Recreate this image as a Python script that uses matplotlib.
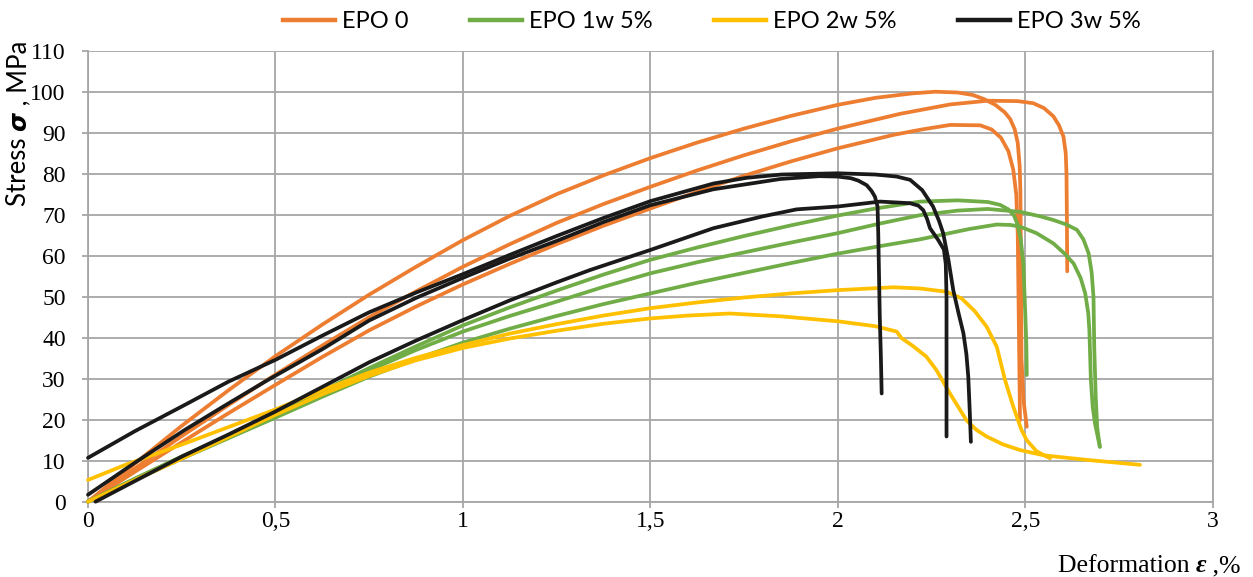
import matplotlib
matplotlib.use("Agg")
import matplotlib.pyplot as plt
from matplotlib.lines import Line2D

# ---------------- data (strain %, stress MPa) ----------------
epo0_a_x = [0, 0.125, 0.25, 0.375, 0.5, 0.625, 0.75, 0.875, 1.0, 1.125, 1.25, 1.375, 1.5, 1.625, 1.75, 1.875, 2.0, 2.1, 2.2, 2.26, 2.32, 2.36, 2.39, 2.42, 2.445, 2.46, 2.472, 2.48, 2.485, 2.487, 2.488, 2.489, 2.49, 2.495, 2.504]
epo0_a_y = [0, 9.3, 18.5, 27.2, 35.5, 43.2, 50.5, 57.3, 63.8, 69.7, 75.0, 79.6, 83.8, 87.6, 91.0, 94.1, 96.8, 98.5, 99.6, 100.0, 99.8, 99.2, 98.2, 96.8, 95.0, 93.3, 90.8, 87.5, 82.0, 76.0, 65.0, 50.0, 35.0, 25.0, 18.3]
epo0_b_x = [0, 0.125, 0.25, 0.375, 0.5, 0.625, 0.75, 0.875, 1.0, 1.125, 1.25, 1.375, 1.5, 1.625, 1.75, 1.875, 2.0, 2.166, 2.3, 2.4, 2.48, 2.521, 2.55, 2.575, 2.59, 2.602, 2.608, 2.61, 2.611, 2.612]
epo0_b_y = [0, 8.1, 16.0, 23.6, 31.0, 38.1, 45.0, 51.3, 57.3, 62.8, 68.0, 72.6, 76.8, 80.8, 84.5, 87.9, 91.0, 94.6, 96.9, 97.8, 97.7, 97.2, 96.0, 94.0, 91.8, 89.0, 85.0, 80.0, 70.0, 56.2]
epo0_c_x = [0, 0.125, 0.25, 0.375, 0.5, 0.625, 0.75, 0.875, 1.0, 1.125, 1.25, 1.375, 1.5, 1.625, 1.75, 1.875, 2.0, 2.15, 2.225, 2.3, 2.38, 2.41, 2.435, 2.455, 2.468, 2.476, 2.48, 2.482, 2.484, 2.486]
epo0_c_y = [0, 7.3, 14.5, 21.6, 28.5, 35.3, 41.8, 47.6, 53.0, 58.0, 62.8, 67.3, 71.5, 75.6, 79.5, 83.0, 86.2, 89.5, 90.8, 91.9, 91.8, 90.8, 88.8, 85.5, 81.0, 75.0, 65.0, 50.0, 35.0, 19.9]

epo1_a_x = [0, 0.125, 0.25, 0.375, 0.5, 0.625, 0.75, 0.875, 1.0, 1.125, 1.25, 1.375, 1.5, 1.625, 1.75, 1.875, 2.0, 2.1, 2.22, 2.32, 2.4, 2.433, 2.455, 2.47, 2.48, 2.488, 2.495, 2.5, 2.503, 2.504]
epo1_a_y = [0, 5.6, 11.0, 16.2, 21.5, 27.0, 32.6, 37.9, 43.0, 47.4, 51.5, 55.4, 59.0, 62.0, 64.8, 67.4, 69.8, 71.5, 73.2, 73.5, 73.1, 72.4, 71.3, 69.8, 67.5, 64.0, 58.0, 46.0, 38.0, 30.9]
epo1_b_x = [0, 0.125, 0.25, 0.375, 0.5, 0.625, 0.75, 0.875, 1.0, 1.125, 1.25, 1.375, 1.5, 1.625, 1.75, 1.875, 2.0, 2.11, 2.22, 2.32, 2.4, 2.486, 2.54, 2.575, 2.61, 2.638, 2.655, 2.669, 2.677, 2.682, 2.684, 2.688, 2.692, 2.699]
epo1_b_y = [0, 5.6, 11.0, 16.0, 21.0, 26.6, 32.0, 37.0, 41.5, 45.3, 48.8, 52.4, 55.7, 58.4, 60.8, 63.2, 65.5, 67.8, 69.9, 71.0, 71.4, 70.7, 69.6, 68.7, 67.6, 66.3, 64.0, 60.6, 56.0, 50.0, 37.8, 25.6, 18.0, 13.4]
epo1_c_x = [0, 0.125, 0.25, 0.375, 0.5, 0.625, 0.75, 0.875, 1.0, 1.125, 1.25, 1.375, 1.5, 1.625, 1.75, 1.875, 2.0, 2.11, 2.22, 2.35, 2.424, 2.46, 2.486, 2.53, 2.575, 2.605, 2.629, 2.648, 2.66, 2.668, 2.671, 2.675, 2.68, 2.686, 2.699]
epo1_c_y = [0, 5.3, 10.5, 15.5, 20.5, 25.6, 30.5, 34.8, 38.8, 42.2, 45.3, 48.2, 50.8, 53.4, 55.8, 58.2, 60.5, 62.3, 64.0, 66.5, 67.6, 67.5, 67.1, 65.5, 63.0, 60.5, 58.1, 54.5, 50.8, 46.0, 41.9, 29.7, 23.0, 19.1, 13.4]

epo2_a_x = [0, 0.1, 0.258, 0.401, 0.5, 0.625, 0.75, 0.875, 1.0, 1.125, 1.25, 1.375, 1.5, 1.625, 1.75, 1.875, 2.0, 2.148, 2.22, 2.29, 2.33, 2.365, 2.397, 2.424, 2.446, 2.468, 2.49, 2.504, 2.53, 2.566]
epo2_a_y = [5.3, 9.0, 14.2, 19.1, 22.5, 27.2, 31.5, 35.1, 38.2, 41.0, 43.3, 45.4, 47.2, 48.6, 49.8, 50.8, 51.6, 52.3, 52.0, 51.2, 49.6, 46.5, 42.7, 37.8, 29.7, 23.2, 17.5, 15.0, 12.3, 10.6]
epo2_b_x = [0, 0.125, 0.25, 0.375, 0.5, 0.625, 0.75, 0.875, 1.0, 1.125, 1.25, 1.375, 1.5, 1.6, 1.712, 1.85, 2.0, 2.1, 2.157, 2.17, 2.2, 2.236, 2.263, 2.299, 2.343, 2.37, 2.397, 2.44, 2.486, 2.55, 2.664, 2.806]
epo2_b_y = [0, 5.3, 10.5, 15.8, 21.2, 26.2, 30.7, 34.5, 37.5, 39.8, 41.7, 43.4, 44.7, 45.4, 45.9, 45.2, 44.0, 42.8, 41.5, 39.9, 38.0, 35.4, 32.1, 26.4, 19.9, 17.5, 15.9, 14.0, 12.6, 11.3, 10.2, 9.0]

epo3_a_x = [0, 0.125, 0.258, 0.375, 0.5, 0.625, 0.75, 0.875, 1.0, 1.125, 1.25, 1.375, 1.5, 1.668, 1.757, 1.85, 2.0, 2.1, 2.157, 2.193, 2.225, 2.254, 2.27, 2.281, 2.295, 2.308, 2.322, 2.335, 2.343, 2.348, 2.352, 2.355]
epo3_a_y = [10.7, 17.2, 23.6, 29.3, 34.6, 40.5, 46.2, 51.0, 55.5, 60.2, 64.8, 69.2, 73.3, 77.6, 79.0, 79.8, 80.1, 79.8, 79.3, 78.5, 76.0, 72.0, 68.5, 65.5, 59.0, 51.6, 46.0, 41.1, 36.0, 30.5, 22.0, 14.6]
epo3_b_x = [0, 0.125, 0.258, 0.375, 0.48, 0.625, 0.75, 0.875, 1.0, 1.125, 1.25, 1.375, 1.5, 1.668, 1.846, 1.95, 2.0, 2.035, 2.055, 2.077, 2.09, 2.099, 2.106, 2.108, 2.11, 2.112, 2.115, 2.117]
epo3_b_y = [1.7, 9.5, 17.5, 24.0, 29.7, 37.2, 44.2, 49.7, 54.6, 59.3, 63.6, 68.2, 72.3, 76.2, 78.7, 79.4, 79.3, 78.9, 78.3, 77.2, 75.8, 74.4, 72.0, 65.0, 55.0, 45.0, 35.0, 26.4]
epo3_c_x = [0.02, 0.25, 0.375, 0.5, 0.625, 0.75, 0.875, 1.0, 1.125, 1.25, 1.339, 1.5, 1.668, 1.8, 1.89, 2.0, 2.113, 2.193, 2.215, 2.228, 2.238, 2.246, 2.268, 2.283, 2.288, 2.29, 2.29, 2.29]
epo3_c_y = [0, 11.0, 16.4, 22.0, 28.0, 34.0, 39.3, 44.3, 49.1, 53.5, 56.5, 61.4, 66.7, 69.6, 71.3, 72.0, 73.2, 72.8, 72.2, 71.1, 69.0, 66.7, 63.8, 61.5, 58.0, 50.0, 35.0, 15.9]

series_names = ["EPO 0", "EPO 1w 5%", "EPO 2w 5%", "EPO 3w 5%"]
series_colors = ["#ED7D31", "#70AD47", "#FFC000", "#1A1A1A"]
series_curves = [
    [(epo0_a_x, epo0_a_y), (epo0_b_x, epo0_b_y), (epo0_c_x, epo0_c_y)],
    [(epo1_a_x, epo1_a_y), (epo1_b_x, epo1_b_y), (epo1_c_x, epo1_c_y)],
    [(epo2_a_x, epo2_a_y), (epo2_b_x, epo2_b_y)],
    [(epo3_a_x, epo3_a_y), (epo3_b_x, epo3_b_y), (epo3_c_x, epo3_c_y)],
]
x_ticks = [0, 0.5, 1, 1.5, 2, 2.5, 3]
x_tick_labels = ["0", "0,5", "1", "1,5", "2", "2,5", "3"]
y_ticks = list(range(0, 111, 10))

# ---------------- figure ----------------
W, H = 1253, 577
fig = plt.figure(figsize=(W / 100, H / 100), dpi=100)
L, R, T, B = 88, 1212.7, 50.7, 501.7
ax = fig.add_axes([L / W, 1 - B / H, (R - L) / W, (B - T) / H])
ax.set_xlim(0, 3)
ax.set_ylim(0, 110)

grid_c = "#A6A6A6"
ax.set_xticks(x_ticks)
ax.set_xticklabels(x_tick_labels)
ax.set_yticks(y_ticks)
ax.grid(True, color=grid_c, lw=1.3, zorder=0)
ax.set_axisbelow(True)
for s in ["left", "bottom", "right"]:
    ax.spines[s].set_color(grid_c)
    ax.spines[s].set_linewidth(1.3)
ax.spines["top"].set_visible(False)
ax.tick_params(axis="both", colors=grid_c, length=4, width=1.3, labelcolor="black",
               labelsize=17)
ax.tick_params(axis="y", pad=12)
ax.tick_params(axis="x", pad=3)
for lab in ax.get_xticklabels() + ax.get_yticklabels():
    lab.set_fontfamily("Liberation Serif")

for color, curves in zip(series_colors, series_curves):
    for xs, ys in curves:
        ax.plot(xs, ys, color=color, lw=2.7, solid_capstyle="round",
                solid_joinstyle="round", zorder=3, clip_on=False)

# legend
handles = [Line2D([], [], color=c, lw=3.2) for c in series_colors]
fig.legend(handles, series_names, loc="center", bbox_to_anchor=(712 / W, 1 - 22 / H),
           ncol=4, frameon=False, prop={"family": "Lato", "size": 17},
           handlelength=2.2, handletextpad=0.3, columnspacing=2.6)

# rich text helper
fig.canvas.draw()
renderer = fig.canvas.get_renderer()


def rich_text(pieces, x, y, rotation=0, ha="left"):
    # pieces: list of (text, kwargs); x,y in pixels from bottom-left
    objs = []
    total = 0
    for txt, kw in pieces:
        t = fig.text(0, 0, txt, rotation=rotation, va="center", ha="left" if rotation == 0 else "center",
                     **kw)
        bb = t.get_window_extent(renderer)
        size = bb.width if rotation == 0 else bb.height
        objs.append((t, size))
        total += size
    if rotation == 0:
        pos = x - total if ha == "right" else x
    else:
        pos = y
    for t, size in objs:
        if rotation == 0:
            t.set_position((pos / W, y / H))
            t.set_ha("left")
        else:
            t.set_position((x / W, (pos + size / 2) / H))
            t.set_va("center")
        pos += size


xl_font = {"family": "Liberation Serif", "size": 18.5}
rich_text([("Deformation ", xl_font),
           ("ε", {"family": "Liberation Serif", "size": 18.5, "weight": "bold", "style": "italic"}),
           (" ,%", xl_font)], 1241, H - 566, ha="right")

yl_font = {"family": "Lato", "size": 18.5}
rich_text([("Stress ", yl_font),
           ("σ", {"family": "DejaVu Sans", "size": 17.5, "weight": "bold", "style": "italic"}),
           (" , MPa", yl_font)], 19, H - 206, rotation=90)

fig.savefig("out.png", dpi=100)
